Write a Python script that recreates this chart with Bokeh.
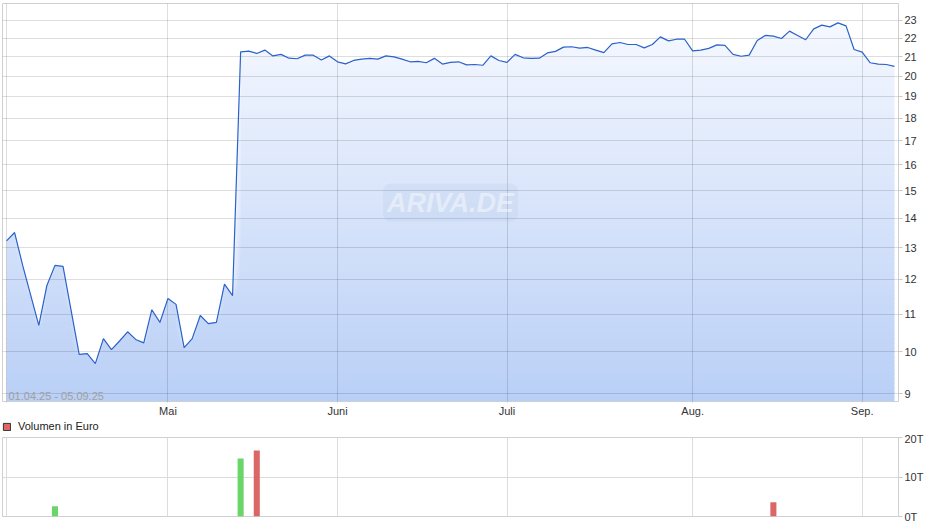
import numpy as np
import pandas as pd
from bokeh.plotting import figure
from bokeh.layouts import column
from bokeh.models import FixedTicker, Label, Legend, LegendItem, NumeralTickFormatter, Range1d
from bokeh.embed import file_html
from bokeh.resources import INLINE

# ---------------- data ----------------
holidays = ["2025-04-18", "2025-04-21", "2025-05-01"]
start_date = "2025-04-01"
end_date = "2025-09-05"

price = [
    13.22, 13.50, 12.43, 11.53, 10.69, 11.82, 12.43, 12.40, 11.10, 9.94,
    9.96, 9.71, 10.34, 10.06, 10.28, 10.52, 10.32, 10.23, 11.12, 10.77,
    11.44, 11.27, 10.11, 10.34, 10.96, 10.74, 10.77, 11.86, 11.52, 21.25,
    21.29, 21.17, 21.35, 21.04, 21.12, 20.92, 20.89, 21.08, 21.08, 20.82,
    21.04, 20.73, 20.62, 20.80, 20.87, 20.91, 20.87, 21.04, 20.99, 20.87,
    20.73, 20.75, 20.68, 20.91, 20.61, 20.70, 20.73, 20.57, 20.59, 20.55,
    21.04, 20.80, 20.70, 21.12, 20.94, 20.91, 20.92, 21.20, 21.28, 21.51,
    21.53, 21.45, 21.49, 21.35, 21.21, 21.69, 21.76, 21.65, 21.65, 21.47,
    21.65, 22.07, 21.85, 21.94, 21.94, 21.31, 21.35, 21.44, 21.63, 21.60,
    21.12, 21.02, 21.08, 21.87, 22.15, 22.11, 21.98, 22.39, 22.15, 21.91,
    22.52, 22.73, 22.63, 22.86, 22.69, 21.38, 21.24, 20.68, 20.61, 20.59,
    20.49,
]

vol_dates = ["2025-04-09", "2025-05-15", "2025-05-19", "2025-08-15"]
vol_values = [2600, 14700, 16700, 3600]

month_labels = ["", "Mai", "Juni", "Juli", "Aug.", "Sep."]
price_ticks = [9, 10, 11, 12, 13, 14, 15, 16, 17, 18, 19, 20, 21, 22, 23]
vol_ticks = [0, 10000, 20000]
vol_tick_labels = ["0T", "10T", "20T"]
range_text = "01.04.25 - 05.09.25"
legend_text = "Volumen in Euro"
watermark = "ARIVA.DE"

# ---------------- derived ----------------
dates = pd.bdate_range(start_date, end_date)
dates = dates[~dates.isin(pd.to_datetime(holidays))]
n = len(dates)
x = np.arange(n)
p_arr = np.array(price)

month_pos = [i for i in range(n) if i == 0 or dates[i].month != dates[i - 1].month]
vol_idx = [int(dates.get_loc(pd.Timestamp(d))) for d in vol_dates]
UP, DOWN = "#6ad66a", "#dc6666"
vol_colors = [UP if p_arr[i] >= p_arr[i - 1] else DOWN for i in vol_idx]

FONT = "Liberation Sans"
Y_LO, Y_HI = 8.83, 24.0
xr = Range1d(-0.5, n - 0.5)

# ---------------- main chart ----------------
p = figure(width=940, height=420, x_range=xr, y_range=Range1d(Y_LO, Y_HI),
           y_axis_type="log", y_axis_location="right",
           output_backend="svg", toolbar_location=None,
           min_border_left=2, min_border_right=42, min_border_top=3, min_border_bottom=19)
p.outline_line_color = "#d0d0d0"
p.background_fill_color = "white"

# gradient fill under the curve (bands evenly spaced on screen)
N = 90
edges = np.geomspace(Y_LO, Y_HI, N + 1)
top_c = np.array([248, 250, 255])
bot_c = np.array([185, 207, 246])
for k in range(N):
    lo, hi = edges[k], edges[k + 1]
    if p_arr.max() <= lo:
        continue
    t = (k + 0.5) / N
    c = bot_c + t * (top_c - bot_c)
    col = "#%02x%02x%02x" % tuple(int(round(v)) for v in c)
    p.varea(x=x, y1=np.minimum(p_arr, lo), y2=np.minimum(p_arr, hi * 1.003),
            fill_color=col, fill_alpha=1.0)

line_r = p.line(x, p_arr, line_color="#2a62c9", line_width=1.2)
line_r.level = "overlay"

p.xaxis.ticker = FixedTicker(ticks=month_pos)
p.xaxis.major_label_overrides = {pos: lab for pos, lab in zip(month_pos, month_labels)}
p.yaxis.ticker = FixedTicker(ticks=price_ticks)
p.yaxis.formatter = NumeralTickFormatter(format="0")

for ax in (p.xaxis[0], p.yaxis[0]):
    ax.axis_line_color = None
    ax.minor_tick_line_color = None
    ax.major_tick_in = 0
    ax.major_tick_line_color = "#cccccc"
    ax.major_label_text_font = FONT
    ax.major_label_text_font_size = "11px"
    ax.major_label_text_color = "#333333"
p.xaxis.major_tick_out = 1
p.xaxis.major_label_standoff = 2
p.yaxis.major_tick_out = 4
p.yaxis.major_label_standoff = 2

p.xgrid.ticker = FixedTicker(ticks=month_pos)
p.ygrid.ticker = FixedTicker(ticks=price_ticks)
for g in (p.xgrid[0], p.ygrid[0]):
    g.grid_line_color = "#000000"
    g.grid_line_alpha = 0.13
    g.level = "guide"

p.add_layout(Label(x=6, y=6, x_units="screen", y_units="screen", text=range_text,
                   text_font=FONT, text_font_size="11px", text_color="#a0a0a0",
                   text_baseline="middle"))
p.add_layout(Label(x=448, y=199, x_units="screen", y_units="screen", text=watermark,
                   text_font=FONT, text_font_size="27px", text_font_style="bold italic",
                   text_color="white", text_alpha=0.45, text_align="center",
                   text_baseline="middle",
                   background_fill_color="#8ea4cc", background_fill_alpha=0.1,
                   padding=4, border_radius=8))

# ---------------- legend strip ----------------
lg = figure(width=940, height=12, x_range=Range1d(0, 1), y_range=Range1d(0, 1),
            x_axis_location=None, y_axis_location=None,
            output_backend="svg", toolbar_location=None,
            min_border_left=2, min_border_right=42, min_border_top=0, min_border_bottom=0)
lg.outline_line_color = None
lg.xgrid.visible = False
lg.ygrid.visible = False
dummy = lg.quad(left=[np.nan], right=[np.nan], top=[np.nan], bottom=[np.nan],
                fill_color=DOWN, line_color="#333333")
leg = Legend(items=[LegendItem(label=legend_text, renderers=[dummy], index=0)],
             location=(0, 0), orientation="horizontal",
             margin=0, padding=0, glyph_width=9, glyph_height=9, label_standoff=7,
             label_text_font=FONT, label_text_font_size="11px", label_text_color="#222222",
             label_text_baseline="middle",
             border_line_color=None, background_fill_alpha=0, label_height=9)
lg.add_layout(leg)

# ---------------- volume chart ----------------
v = figure(width=940, height=94, x_range=xr, y_range=Range1d(0, 20000),
           y_axis_location="right", output_backend="svg", toolbar_location=None,
           min_border_left=2, min_border_right=42, min_border_top=5, min_border_bottom=10)
v.outline_line_color = "#d0d0d0"
v.vbar(x=vol_idx, top=vol_values, width=0.75, fill_color=vol_colors, line_color=None)

v.xaxis.visible = False
v.yaxis.ticker = FixedTicker(ticks=vol_ticks)
v.yaxis.major_label_overrides = {t: l for t, l in zip(vol_ticks, vol_tick_labels)}
ax = v.yaxis[0]
ax.axis_line_color = None
ax.minor_tick_line_color = None
ax.major_tick_in = 0
ax.major_tick_out = 4
ax.major_tick_line_color = "#cccccc"
ax.major_label_text_font = FONT
ax.major_label_text_font_size = "11px"
ax.major_label_text_color = "#333333"
ax.major_label_standoff = 2
v.xgrid.ticker = FixedTicker(ticks=month_pos)
v.ygrid.ticker = FixedTicker(ticks=vol_ticks)
for g in (v.xgrid[0], v.ygrid[0]):
    g.grid_line_color = "#dcdcdc"

layout = column(p, lg, v, spacing=0)
open("out.html", "w").write(file_html(layout, INLINE))
